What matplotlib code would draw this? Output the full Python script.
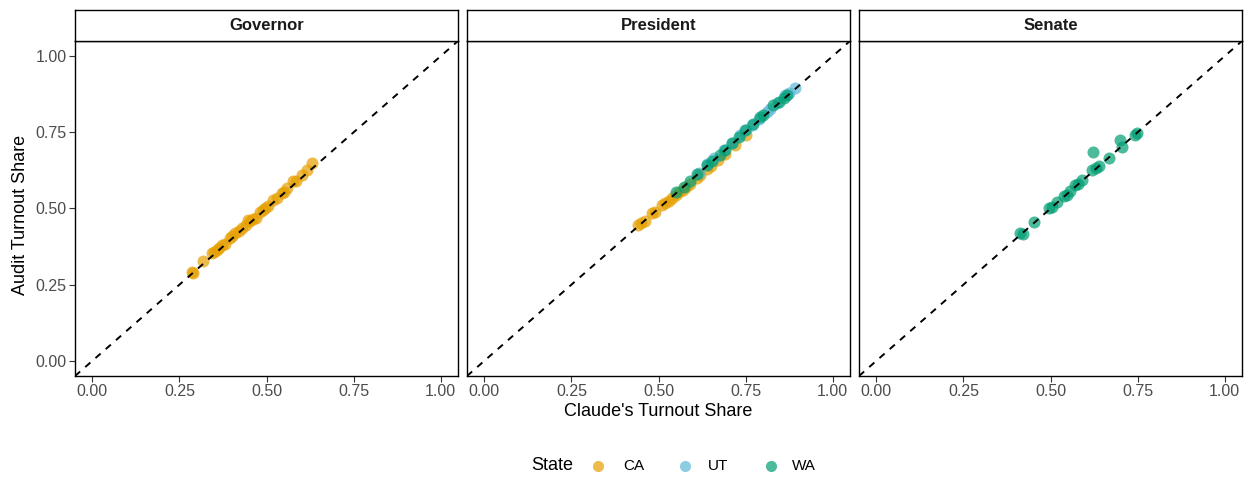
import matplotlib
matplotlib.use("Agg")
import matplotlib.pyplot as plt

plt.rcParams['font.family'] = ['Liberation Sans', 'DejaVu Sans']

panels = ["Governor", "President", "Senate"]
states = ["CA", "UT", "WA"]
colors = {"CA": "#E69F00", "UT": "#5BB8D6", "WA": "#009E73"}

# Governor (CA only)
gov_ca_x = [0.285, 0.29, 0.319, 0.343, 0.35, 0.357, 0.365, 0.371, 0.38, 0.395, 0.40, 0.41, 0.42, 0.429, 0.44, 0.448, 0.452, 0.46, 0.47, 0.482, 0.49, 0.496, 0.505, 0.52, 0.53, 0.544, 0.55, 0.558, 0.577, 0.585, 0.601, 0.616, 0.63]
gov_ca_y = [0.293, 0.287, 0.328, 0.353, 0.356, 0.364, 0.37, 0.381, 0.385, 0.403, 0.41, 0.419, 0.425, 0.435, 0.445, 0.463, 0.46, 0.465, 0.47, 0.49, 0.495, 0.503, 0.507, 0.528, 0.533, 0.55, 0.553, 0.566, 0.589, 0.59, 0.611, 0.627, 0.649]

# President
pres_ca_x = [0.44, 0.45, 0.46, 0.48, 0.49, 0.51, 0.52, 0.53, 0.54, 0.55, 0.56, 0.57, 0.58, 0.59, 0.61, 0.62, 0.64, 0.65, 0.67, 0.69, 0.72, 0.75]
pres_ca_y = [0.446, 0.452, 0.46, 0.484, 0.49, 0.51, 0.517, 0.526, 0.535, 0.545, 0.553, 0.562, 0.572, 0.582, 0.60, 0.61, 0.63, 0.64, 0.66, 0.68, 0.71, 0.74]
pres_ut_x = [0.615, 0.64, 0.66, 0.687, 0.71, 0.734, 0.75, 0.768, 0.79, 0.811, 0.82, 0.84, 0.864, 0.875, 0.893]
pres_ut_y = [0.616, 0.645, 0.665, 0.692, 0.715, 0.741, 0.757, 0.774, 0.795, 0.818, 0.826, 0.846, 0.873, 0.88, 0.895]
pres_wa_x = [0.55, 0.572, 0.59, 0.61, 0.639, 0.655, 0.677, 0.69, 0.711, 0.73, 0.749, 0.77, 0.792, 0.80, 0.83, 0.845, 0.86, 0.87]
pres_wa_y = [0.555, 0.572, 0.59, 0.612, 0.643, 0.657, 0.676, 0.692, 0.714, 0.734, 0.758, 0.776, 0.80, 0.806, 0.84, 0.85, 0.862, 0.872]

# Senate (WA only)
sen_wa_x = [0.413, 0.42, 0.454, 0.497, 0.505, 0.518, 0.54, 0.548, 0.556, 0.571, 0.58, 0.59, 0.619, 0.623, 0.63, 0.638, 0.668, 0.70, 0.705, 0.742, 0.748]
sen_wa_y = [0.42, 0.415, 0.457, 0.501, 0.505, 0.52, 0.54, 0.545, 0.556, 0.577, 0.58, 0.592, 0.627, 0.685, 0.632, 0.638, 0.665, 0.725, 0.703, 0.74, 0.747]

data = {
    "Governor": [("CA", gov_ca_x, gov_ca_y)],
    "President": [("CA", pres_ca_x, pres_ca_y), ("UT", pres_ut_x, pres_ut_y), ("WA", pres_wa_x, pres_wa_y)],
    "Senate": [("WA", sen_wa_x, sen_wa_y)],
}

ticks = [0.0, 0.25, 0.5, 0.75, 1.0]
tick_labels = ["0.00", "0.25", "0.50", "0.75", "1.00"]

W, H = 1252, 480
fig = plt.figure(figsize=(W / 100, H / 100), dpi=100)
lefts = [75, 467, 859]
pw = 383
top, bottom = 41, 376
strip_top = 10
grey = "#4D4D4D"

for i, (px, name) in enumerate(zip(lefts, panels)):
    ax = fig.add_axes([px / W, 1 - bottom / H, pw / W, (bottom - top) / H])
    ax.set_xlim(-0.05, 1.05)
    ax.set_ylim(-0.05, 1.05)
    for st, xs, ys in data[name]:
        ax.scatter(xs, ys, s=75, color=colors[st], alpha=0.7, linewidths=0, zorder=2)
    ax.plot([-0.05, 1.05], [-0.05, 1.05], ls=(0, (3.5, 3.5)), color="black", lw=1.4, zorder=3)
    ax.set_xticks(ticks)
    ax.set_xticklabels(tick_labels, fontsize=11.5, color=grey)
    ax.set_yticks(ticks)
    if i == 0:
        ax.set_yticklabels(tick_labels, fontsize=11.5, color=grey)
    else:
        ax.tick_params(axis="y", left=False, labelleft=False)
    ax.tick_params(axis="both", length=4, width=0.8, color="#333333", pad=2)
    for sp in ax.spines.values():
        sp.set_linewidth(1.0)
        sp.set_color("black")
    # strip
    sax = fig.add_axes([px / W, 1 - top / H, pw / W, (top - strip_top) / H])
    sax.set_xticks([]); sax.set_yticks([])
    for sp in sax.spines.values():
        sp.set_linewidth(1.0)
        sp.set_color("black")
    sax.text(0.5, 0.5, name, ha="center", va="center", fontsize=12, fontweight="bold", color="#1A1A1A", transform=sax.transAxes)

fig.text(lefts[1] / W + pw / W / 2, 1 - 412 / H, "Claude's Turnout Share", ha="center", va="center", fontsize=13)
fig.text(21 / W, 1 - 215 / H, "Audit Turnout Share", ha="center", va="center", rotation=90, fontsize=13)

# legend drawn manually in figure coordinates
ly = 1 - 466 / H
fig.text(531 / W, ly, "State", ha="left", va="center", fontsize=13)
dot_x = [598, 685, 771]
lab_x = [623, 708, 792]
for st, dx, tx in zip(states, dot_x, lab_x):
    fig.add_artist(plt.Line2D([dx / W], [ly], marker="o", ls="", color=colors[st], alpha=0.7,
                              markersize=8, markeredgewidth=0, transform=fig.transFigure))
    fig.text(tx / W, ly, st, ha="left", va="center", fontsize=11)

fig.savefig("out.png", dpi=100)
